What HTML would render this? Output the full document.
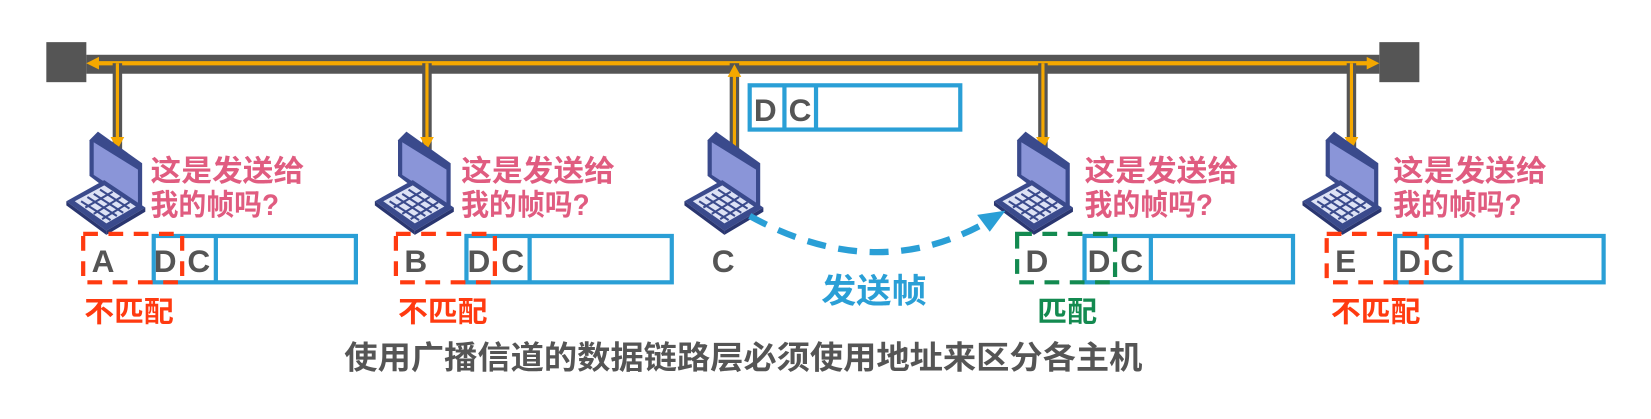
<!DOCTYPE html>
<html><head><meta charset="utf-8"><style>
body{margin:0;width:1651px;height:414px;background:#fff;overflow:hidden}
svg text{font-family:"Liberation Sans","Noto Sans CJK SC",sans-serif;font-weight:bold}
</style></head><body>
<svg width="1651" height="414" viewBox="0 0 1568 393" preserveAspectRatio="none" xmlns="http://www.w3.org/2000/svg">
<defs>
<g id="lap">
<polygon points="22,0 30,-8 72,22 72,62 64,66 22,34" fill="#3a4a8c"/>
<polygon points="26,2 68,28 68,60 26,33" fill="#8a95d8"/>
<polygon points="0,58 36,38 75,64 38,86" fill="#3a4a8c"/>
<polygon points="8,58 36,43 66,63 38,79" fill="#dde2f5"/>
<g stroke="#3a4a8c" stroke-width="2">
<line x1="14" y1="58" x2="42" y2="76"/><line x1="20" y1="54" x2="48" y2="72"/><line x1="26" y1="51" x2="54" y2="69"/><line x1="32" y1="47" x2="60" y2="65"/>
<line x1="18" y1="64" x2="44" y2="49"/><line x1="26" y1="70" x2="52" y2="54"/><line x1="34" y1="75" x2="60" y2="59"/>
</g>
<polygon points="0,58 38,86 38,90 0,62" fill="#2a3670"/>
<polygon points="38,86 75,64 75,68 38,90" fill="#2a3670"/>
</g>
</defs>
<!-- bus -->
<rect x="44" y="40" width="38" height="38" fill="#555"/>
<rect x="1310" y="40" width="38" height="38" fill="#555"/>
<rect x="82" y="52" width="1228" height="18" fill="#555"/>
<line x1="1300" y1="60" x2="92" y2="60" stroke="#f5a800" stroke-width="4"/>
<polygon points="82,60 94,54 94,66" fill="#f5a800"/>
<polygon points="1310,60 1298,54 1298,66" fill="#f5a800"/>
<!-- drops -->
<g>
<rect x="107" y="60" width="9" height="82" fill="#555"/><line x1="111.5" y1="60" x2="111.5" y2="132" stroke="#f5a800" stroke-width="3"/><polygon points="105,130 118,130 111.5,142" fill="#f5a800"/>
<rect x="401" y="60" width="9" height="82" fill="#555"/><line x1="405.5" y1="60" x2="405.5" y2="132" stroke="#f5a800" stroke-width="3"/><polygon points="399,130 412,130 405.5,142" fill="#f5a800"/>
<rect x="693" y="60" width="9" height="82" fill="#555"/><line x1="697.5" y1="72" x2="697.5" y2="142" stroke="#f5a800" stroke-width="3"/><polygon points="691,73 704,73 697.5,61" fill="#f5a800"/>
<rect x="986" y="60" width="9" height="82" fill="#555"/><line x1="990.5" y1="60" x2="990.5" y2="132" stroke="#f5a800" stroke-width="3"/><polygon points="984,130 997,130 990.5,142" fill="#f5a800"/>
<rect x="1279" y="60" width="9" height="82" fill="#555"/><line x1="1283.5" y1="60" x2="1283.5" y2="132" stroke="#f5a800" stroke-width="3"/><polygon points="1277,130 1290,130 1283.5,142" fill="#f5a800"/>
</g>
<!-- laptops -->
<use href="#lap" x="63" y="133"/>
<use href="#lap" x="356" y="133"/>
<use href="#lap" x="650" y="133"/>
<use href="#lap" x="944" y="133"/>
<use href="#lap" x="1237" y="133"/>
<!-- bubbles -->
<g fill="#e05c80" font-size="28">
<text x="143" y="172" textLength="146" lengthAdjust="spacingAndGlyphs">这是发送给</text><text x="143" y="204" textLength="122" lengthAdjust="spacingAndGlyphs">我的帧吗?</text>
<text x="438" y="172" textLength="146" lengthAdjust="spacingAndGlyphs">这是发送给</text><text x="438" y="204" textLength="122" lengthAdjust="spacingAndGlyphs">我的帧吗?</text>
<text x="1030" y="172" textLength="146" lengthAdjust="spacingAndGlyphs">这是发送给</text><text x="1030" y="204" textLength="122" lengthAdjust="spacingAndGlyphs">我的帧吗?</text>
<text x="1323" y="172" textLength="146" lengthAdjust="spacingAndGlyphs">这是发送给</text><text x="1323" y="204" textLength="122" lengthAdjust="spacingAndGlyphs">我的帧吗?</text>
</g>
<!-- top frame -->
<g fill="none" stroke="#2a9fd6" stroke-width="4">
<rect x="712" y="81" width="200" height="42"/><line x1="745" y1="81" x2="745" y2="123"/><line x1="775" y1="81" x2="775" y2="123"/>
</g>
<g fill="#555" font-size="30"><text x="716" y="115">D</text><text x="749" y="115">C</text></g>
<!-- frames -->
<g fill="none" stroke="#2a9fd6" stroke-width="4">
<rect x="146" y="224" width="192" height="44"/><line x1="205" y1="224" x2="205" y2="268"/>
<rect x="443" y="224" width="195" height="44"/><line x1="503" y1="224" x2="503" y2="268"/>
<rect x="1030" y="224" width="198" height="44"/><line x1="1093" y1="224" x2="1093" y2="268"/>
<rect x="1325" y="224" width="198" height="44"/><line x1="1388" y1="224" x2="1388" y2="268"/>
</g>
<g fill="none" stroke-width="4" stroke-dasharray="14,10">
<rect x="79" y="222" width="94" height="46" stroke="#ff3a10"/>
<rect x="376" y="222" width="94" height="46" stroke="#ff3a10"/>
<rect x="966" y="222" width="93" height="46" stroke="#138a50"/>
<rect x="1260" y="222" width="95" height="46" stroke="#ff3a10"/>
</g>
<g fill="#555" font-size="30">
<text x="87" y="258">A</text><text x="146" y="258">D</text><text x="178" y="258">C</text>
<text x="384" y="258">B</text><text x="444" y="258">D</text><text x="476" y="258">C</text>
<text x="974" y="258">D</text><text x="1033" y="258">D</text><text x="1064" y="258">C</text>
<text x="1268" y="258">E</text><text x="1328" y="258">D</text><text x="1359" y="258">C</text>
<text x="676" y="258">C</text>
</g>
<g font-size="27">
<text x="80" y="305" fill="#ff3a10" textLength="85" lengthAdjust="spacingAndGlyphs">不匹配</text>
<text x="378" y="305" fill="#ff3a10" textLength="85" lengthAdjust="spacingAndGlyphs">不匹配</text>
<text x="985" y="305" fill="#138a50" textLength="57" lengthAdjust="spacingAndGlyphs">匹配</text>
<text x="1264" y="305" fill="#ff3a10" textLength="85" lengthAdjust="spacingAndGlyphs">不匹配</text>
</g>
<!-- send arc -->
<path d="M712,205 Q830,270 935,212" fill="none" stroke="#2a9fd6" stroke-width="6" stroke-dasharray="18,12"/>
<polygon points="955,200 928,204 940,220" fill="#2a9fd6"/>
<text x="780" y="287" font-size="32" fill="#2a9fd6" textLength="100" lengthAdjust="spacingAndGlyphs">发送帧</text>
<text x="327" y="350" font-size="30" fill="#555" textLength="758" lengthAdjust="spacingAndGlyphs">使用广播信道的数据链路层必须使用地址来区分各主机</text>
</svg>
</body></html>
